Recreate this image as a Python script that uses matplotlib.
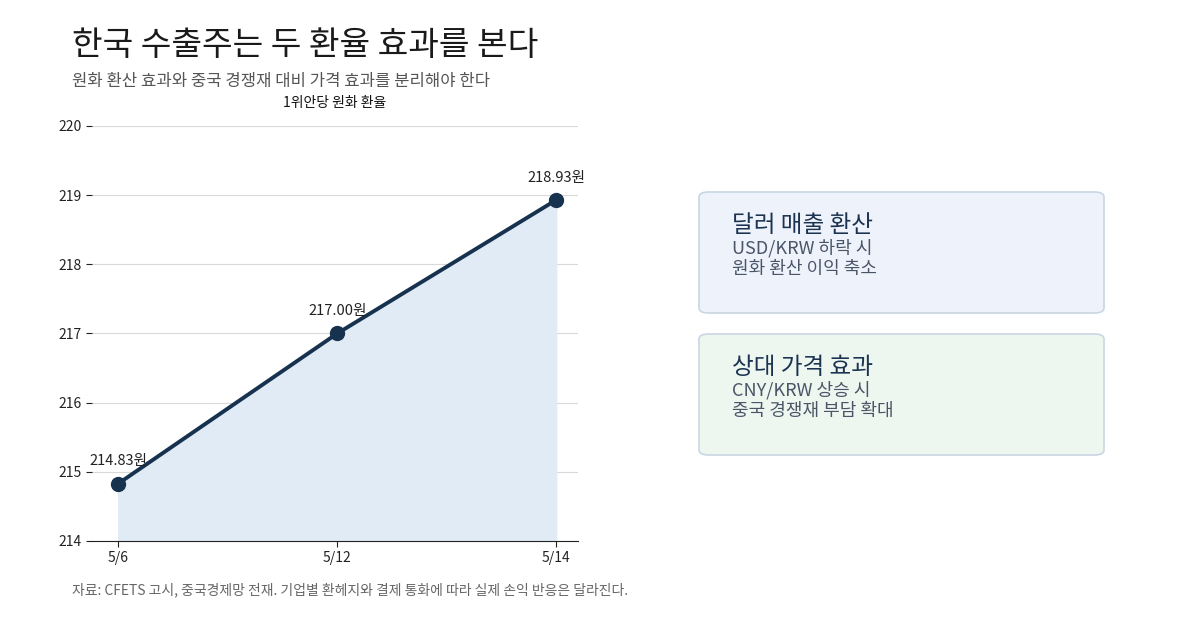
import matplotlib
matplotlib.use('Agg')
import matplotlib.pyplot as plt
from matplotlib.patches import FancyBboxPatch

plt.rcParams['font.family'] = ['Noto Sans CJK KR', 'DejaVu Sans']

dates = ['5/6', '5/12', '5/14']
rates = [214.83, 217.00, 218.93]
y_ticks = [214, 215, 216, 217, 218, 219, 220]

title = '한국 수출주는 두 환율 효과를 본다'
subtitle = '원화 환산 효과와 중국 경쟁재 대비 가격 효과를 분리해야 한다'
chart_title = '1위안당 원화 환율'
footer = '자료: CFETS 고시, 중국경제망 전재. 기업별 환헤지와 결제 통화에 따라 실제 손익 반응은 달라진다.'

cards = [
    ('달러 매출 환산', ['USD/KRW 하락 시', '원화 환산 이익 축소'], '#eef3fb'),
    ('상대 가격 효과', ['CNY/KRW 상승 시', '중국 경쟁재 부담 확대'], '#edf6ef'),
]

navy = '#17324f'

fig = plt.figure(figsize=(12, 6.3), dpi=100)
ax = fig.add_axes([0.0767, 0.1413, 0.405, 0.6587])

x = list(range(len(dates)))
ax.fill_between(x, rates, 214, color='#e1ebf5', zorder=1)
ax.plot(x, rates, color=navy, lw=2.8, marker='o', markersize=10, zorder=3)
for xi, v in zip(x, rates):
    ax.annotate(f'{v:.2f}원', (xi, v), xytext=(0, 11), textcoords='offset points',
                ha='center', va='bottom', fontsize=10.5, color='#222222')

ax.set_xlim(-0.12, 2.1)
ax.set_ylim(214, 220)
ax.set_xticks(x)
ax.set_xticklabels(dates)
ax.set_yticks(y_ticks)
ax.grid(axis='y', color='#d9d9d9', lw=0.8)
ax.set_axisbelow(True)
for s in ['left', 'top', 'right']:
    ax.spines[s].set_visible(False)
ax.spines['bottom'].set_color('#222222')
ax.tick_params(axis='both', labelsize=10, colors='#222222', length=4)
ax.set_title(chart_title, fontsize=10, pad=14, color='#111111')

fig.text(0.06, 0.928, title, fontsize=24, color='#1a1a1a', va='center')
fig.text(0.06, 0.871, subtitle, fontsize=12, color='#555555', va='center')
fig.text(0.06, 0.063, footer, fontsize=10, color='#666666', va='center')

W, H = 1200, 630
box_x0, box_x1 = 699, 1104
box_tops = [192, 334]
box_h = 121
for (head, lines, fc), top in zip(cards, box_tops):
    patch = FancyBboxPatch((box_x0 / W, 1 - (top + box_h) / H),
                           (box_x1 - box_x0) / W, box_h / H,
                           boxstyle='round,pad=0,rounding_size=0.008',
                           transform=fig.transFigure, fc=fc, ec='#c9d6e3', lw=1.2)
    fig.patches.append(patch)
    fig.text(732 / W, 1 - (top + 33) / H, head, fontsize=17, color='#1b3350', va='center')
    fig.text(732 / W, 1 - (top + 56) / H, lines[0], fontsize=13, color='#4a5568', va='center')
    fig.text(732 / W, 1 - (top + 77) / H, lines[1], fontsize=13, color='#4a5568', va='center')

fig.savefig('out.png', dpi=100)
